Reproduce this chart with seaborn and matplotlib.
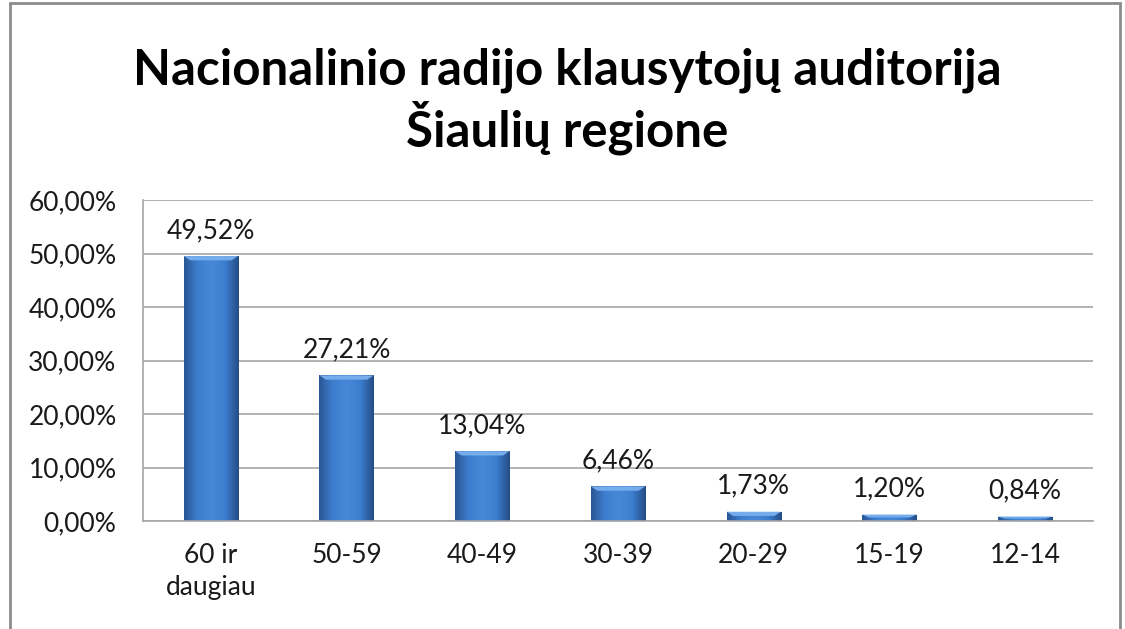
import numpy as np
import matplotlib
matplotlib.use("Agg")
import matplotlib.pyplot as plt
import seaborn as sns
from matplotlib.patches import Rectangle, Polygon
from matplotlib.colors import LinearSegmentedColormap

categories = ["60 ir\ndaugiau", "50-59", "40-49", "30-39", "20-29", "15-19", "12-14"]
values = [49.52, 27.21, 13.04, 6.46, 1.73, 1.20, 0.84]
yticks = [0, 10, 20, 30, 40, 50, 60]
title = "Nacionalinio radijo klausytojų auditorija\nŠiaulių regione"

sns.set_theme(style="white")
plt.rcParams['font.family'] = ['Lato', 'DejaVu Sans']

fig = plt.figure(figsize=(11.25, 6.29), dpi=100)
ax = fig.add_axes([143/1125, 1 - 521/629, (1093-143)/1125, (521-200)/629])

sns.barplot(x=categories, y=values, color="#3b78c8", width=0.40, ax=ax,
            saturation=1, edgecolor="none")

cmap = LinearSegmentedColormap.from_list("bar", ["#2a5593", "#3d7ecf", "#4887d7", "#3d7ecf", "#244c86"])
grad = np.linspace(0, 1, 256).reshape(1, -1)
ax.set_xlim(-0.5, len(categories) - 0.5)
ax.set_ylim(0, 60)
for p in list(ax.patches):
    x0, w = p.get_x(), p.get_width()
    h = p.get_height()
    im = ax.imshow(grad, cmap=cmap, aspect="auto", extent=[x0, x0 + w, 0, h],
                   zorder=p.get_zorder() + 0.1)
    im.set_clip_path(p)
    bev = min(0.8, h * 0.45)
    inset = w * 0.12
    poly = Polygon([[x0, h], [x0 + w, h], [x0 + w - inset, h - bev], [x0 + inset, h - bev]],
                   closed=True, facecolor="#74acec", edgecolor="none",
                   zorder=p.get_zorder() + 0.2)
    ax.add_patch(poly)

ax.set_xlim(-0.5, len(categories) - 0.5)
ax.set_ylim(0, 60)
ax.set_yticks(yticks)
ax.set_yticklabels([f"{v:.2f}%".replace(".", ",") for v in yticks])
ax.set_xticks(range(len(categories)))
ax.set_xticklabels(categories, linespacing=1.35)
ax.yaxis.grid(True, color="#a6a6a6", linewidth=1.2)
ax.set_axisbelow(True)
for s in ["top", "right"]:
    ax.spines[s].set_visible(False)
for s in ["left", "bottom"]:
    ax.spines[s].set_color("#a6a6a6")
    ax.spines[s].set_linewidth(1.2)
ax.tick_params(axis="both", length=0, labelsize=19, colors="#1a1a1a")
ax.tick_params(axis="y", pad=19)
ax.tick_params(axis="x", pad=16)
ax.set_xlabel("")
ax.set_ylabel("")

for i, v in enumerate(values):
    ax.annotate(f"{v:.2f}%".replace(".", ","), (i, v), xytext=(0, 13),
                textcoords="offset points", ha="center", va="baseline",
                fontsize=19, color="#1a1a1a")

fig.text(567/1125, 1 - 101/629, title, ha="center", va="center",
         fontsize=35.5, fontweight="bold", color="black", linespacing=1.17)

fig.patches.append(Rectangle((10/1125, -0.1), (1120-10)/1125, 1.1 - 3/629,
                             transform=fig.transFigure, fill=False,
                             edgecolor="#8c8c8c", linewidth=2))

fig.savefig("out.png", dpi=100)
